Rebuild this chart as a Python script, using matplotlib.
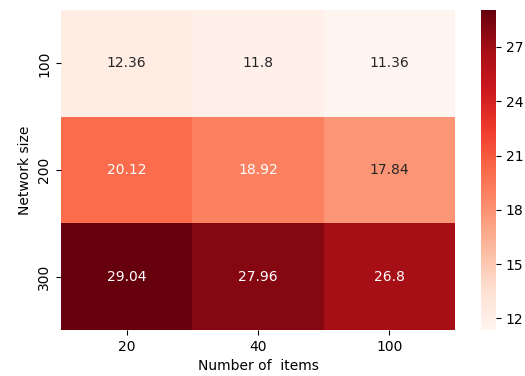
import matplotlib
matplotlib.use("Agg")
import matplotlib.pyplot as plt
import numpy as np
import seaborn as sns

network_sizes = ["100", "200", "300"]
item_counts = ["20", "40", "100"]
row_100 = [12.36, 11.8, 11.36]
row_200 = [20.12, 18.92, 17.84]
row_300 = [29.04, 27.96, 26.8]

values = np.array([row_100, row_200, row_300])

W, H = 525, 376
DPI = 100
fig = plt.figure(figsize=(W / DPI, H / DPI), dpi=DPI)
ax = fig.add_axes([61 / W, 1 - 330 / H, (455 - 61) / W, (330 - 10) / H])
cax = fig.add_axes([481 / W, 1 - 330 / H, (496 - 481) / W, (330 - 10) / H])

sns.heatmap(values, ax=ax, cbar_ax=cax, cmap="Reds", annot=True, fmt="g",
            xticklabels=item_counts, yticklabels=network_sizes,
            annot_kws={"fontsize": 10})
ax.set_xlabel("Number of  items", fontsize=10)
ax.set_ylabel("Network size", fontsize=10)
ax.tick_params(labelsize=10)
cax.set_yticks([12, 15, 18, 21, 24, 27])
cax.tick_params(labelsize=10)

fig.savefig("out.png", dpi=DPI)
